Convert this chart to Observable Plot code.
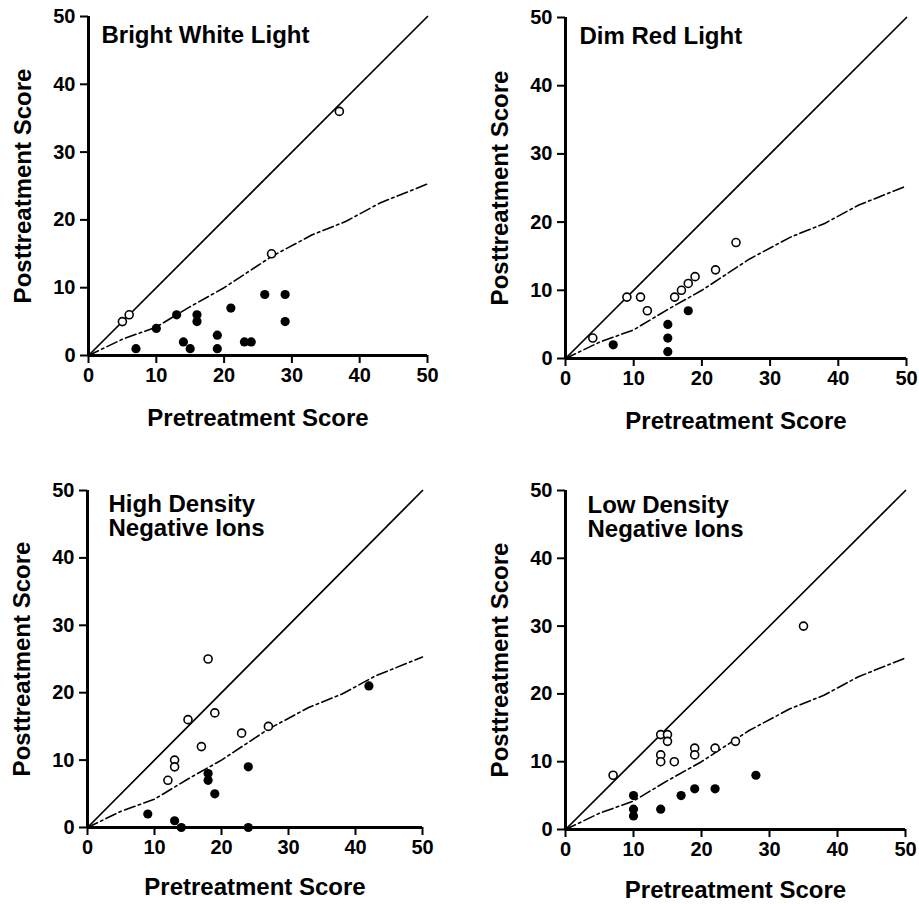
<!DOCTYPE html>
<html>
<head>
<meta charset="utf-8">
<script src="https://cdn.jsdelivr.net/npm/d3@7"></script>
<script src="https://cdn.jsdelivr.net/npm/@observablehq/plot@0.6"></script>
<style>
  html, body { margin: 0; padding: 0; background: #fff; overflow: hidden; }
  #wrap { position: relative; width: 919px; height: 904px; }
  .panel { position: absolute; }
</style>
</head>
<body>
<div id="wrap"></div>
<script>
// ---- Data (pretreatment, posttreatment) ----
const axisTicks = [0, 10, 20, 30, 40, 50];
const panelTitles = ["Bright White Light", "Dim Red Light", "High Density\nNegative Ions", "Low Density\nNegative Ions"];
const xLabel = "Pretreatment Score";
const yLabel = "Posttreatment Score";

const identityLine = [[0, 0], [50, 50]];
const halfLine = [[0, 0], [5, 2.4], [10, 4.2], [15, 7.2], [20, 10], [27, 14.6], [33, 17.8], [38, 19.8], [43, 22.5], [50, 25.3]];

const brightWhiteOpen = [[37, 36], [27, 15], [6, 6], [5, 5]];
const brightWhiteFilled = [[7, 1], [10, 4], [13, 6], [14, 2], [15, 1], [16, 6], [16, 5], [19, 3], [19, 1], [21, 7], [23, 2], [24, 2], [26, 9], [29, 9], [29, 5]];

const dimRedOpen = [[4, 3], [9, 9], [11, 9], [12, 7], [16, 9], [17, 10], [18, 11], [19, 12], [22, 13], [25, 17]];
const dimRedFilled = [[7, 2], [15, 5], [15, 3], [15, 1], [18, 7]];

const highDensityOpen = [[18, 25], [15, 16], [19, 17], [17, 12], [23, 14], [27, 15], [13, 10], [13, 9], [12, 7]];
const highDensityFilled = [[42, 21], [24, 9], [18, 8], [18, 7], [19, 5], [9, 2], [13, 1], [14, 0], [24, 0]];

const lowDensityOpen = [[35, 30], [7, 8], [14, 14], [15, 14], [15, 13], [14, 11], [14, 10], [16, 10], [19, 12], [19, 11], [22, 12], [25, 13]];
const lowDensityFilled = [[28, 8], [10, 5], [10, 3], [10, 2], [14, 3], [17, 5], [19, 6], [22, 6]];

const FONT = "'Liberation Sans', Arial, Helvetica, sans-serif";

function panel(cfg) {
  const p = Plot.plot({
    width: cfg.W, height: cfg.H,
    marginLeft: cfg.mL, marginRight: cfg.mR, marginTop: cfg.mT, marginBottom: cfg.mB,
    style: { fontFamily: FONT, fontSize: "20px", fontWeight: "bold", color: "#000", background: "#fff", overflow: "visible" },
    x: { domain: [0, 50] },
    y: { domain: [0, 50] },
    marks: [
      Plot.line(identityLine, { x: d => d[0], y: d => d[1], stroke: "#000", strokeWidth: 1.7 }),
      Plot.line(halfLine, { x: d => d[0], y: d => d[1], stroke: "#000", strokeWidth: 1.6, strokeDasharray: "11,3.5,2.5,3.5" }),
      Plot.dot(cfg.filled, { x: d => d[0], y: d => d[1], r: 4.6, fill: "#000", stroke: "none" }),
      Plot.dot(cfg.open, { x: d => d[0], y: d => d[1], r: 4, fill: "#fff", stroke: "#000", strokeWidth: 1.6 }),
      Plot.ruleX([0], { stroke: "#000", strokeWidth: 3 }),
      Plot.ruleY([0], { stroke: "#000", strokeWidth: 3 }),
      Plot.axisX({ ticks: axisTicks, tickSize: 8, tickPadding: 4, strokeWidth: 2, label: null, fontSize: 20, fontWeight: "bold", tickFormat: d => String(d) }),
      Plot.axisY({ ticks: axisTicks, tickSize: 8, tickPadding: 5, strokeWidth: 2, label: null, fontSize: 20, fontWeight: "bold", tickFormat: d => String(d) }),
      Plot.text([cfg.title], { frameAnchor: "top-left", dx: cfg.tdx, dy: cfg.tdy, text: d => d, textAnchor: "start", lineAnchor: "top", lineHeight: 1.0, fontSize: 24, fontWeight: "bold", fill: "#000" }),
      Plot.text([xLabel], { frameAnchor: "bottom", dy: cfg.xlOff, text: d => d, textAnchor: "middle", lineAnchor: "middle", fontSize: 24, fontWeight: "bold", fill: "#000" }),
      Plot.text([yLabel], { frameAnchor: "left", dx: -65, text: d => d, rotate: -90, textAnchor: "middle", lineAnchor: "middle", fontSize: 24, fontWeight: "bold", fill: "#000" })
    ]
  });
  const div = document.createElement("div");
  div.className = "panel";
  div.style.left = cfg.left + "px";
  div.style.top = cfg.top + "px";
  div.appendChild(p);
  document.getElementById("wrap").appendChild(div);
}

panel({ left: 0, top: 0, W: 445, H: 440, mL: 88, mR: 18, mT: 16, mB: 85, title: panelTitles[0], open: brightWhiteOpen, filled: brightWhiteFilled, tdx: 13, tdy: 9, xlOff: 63 });
panel({ left: 477, top: 0, W: 442, H: 442, mL: 88, mR: 13, mT: 17, mB: 84, title: panelTitles[1], open: dimRedOpen, filled: dimRedFilled, tdx: 14, tdy: 9, xlOff: 63 });
panel({ left: 0, top: 474, W: 445, H: 438, mL: 87, mR: 23, mT: 16, mB: 85, title: panelTitles[2], open: highDensityOpen, filled: highDensityFilled, tdx: 21, tdy: 4, xlOff: 60 });
panel({ left: 477, top: 474, W: 442, H: 440, mL: 88, mR: 14, mT: 16, mB: 85, title: panelTitles[3], open: lowDensityOpen, filled: lowDensityFilled, tdx: 22, tdy: 5, xlOff: 61 });
</script>
</body>
</html>
